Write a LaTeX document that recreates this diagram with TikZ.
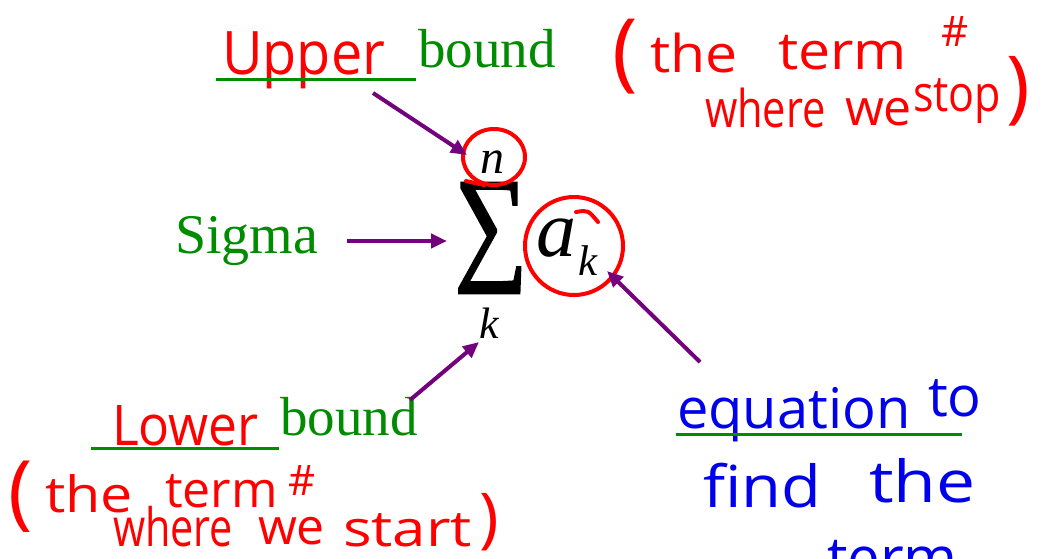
\documentclass[tikz,border=0pt]{standalone}
\usepackage{fontspec}
\setmainfont{Liberation Serif}
\newfontfamily\handfont{Open Sans}
\newfontfamily\sumfont[FakeBold=2]{Liberation Serif}
\usetikzlibrary{arrows.meta}
\definecolor{hred}{RGB}{255,0,0}
\definecolor{hblue}{RGB}{0,0,235}
\definecolor{tgreen}{RGB}{0,140,0}
\definecolor{apurple}{RGB}{115,0,125}
\newcommand{\xs}[2]{\scalebox{#1}[1]{#2}}
\begin{document}
\begin{tikzpicture}[x=1pt,y=-1pt,
  every node/.style={inner sep=0pt, outer sep=0pt},
  hand/.style={anchor=base west, text=hred, font=\handfont\fontsize{#1}{#1}\selectfont},
  hand/.default=50,
  bhand/.style={anchor=base west, text=hblue, font=\handfont\fontsize{#1}{#1}\selectfont},
  bhand/.default=56,
  gtext/.style={anchor=base west, text=tgreen, font=\fontsize{#1}{#1}\selectfont},
  gtext/.default=55,
  mathit/.style={anchor=base west, text=black, font=\itshape\fontsize{#1}{#1}\selectfont},
  uline/.style={draw=tgreen, line width=3pt},
  pointer/.style={draw=apurple, line width=4pt, -{Triangle[length=16pt,width=14pt]}},
  ring/.style={draw=hred, line width=4pt, line cap=round}
]
\useasboundingbox (0,0) rectangle (1043,558);
\fill[white] (0,0) rectangle (1043,558);
\clip (0,0) rectangle (1043,558);

% ---- central formula
\node (sum) at (491,238) {\resizebox*{73pt}{110pt}{\sumfont ∑}};
\node[mathit=48] (n) at (480,173) {n};
\node[mathit=80] (a) at (536,256) {a};
\node[mathit=43] (ksub) at (578,275) {k};
\node[mathit=44] (kbot) at (479,338) {k};

% red rings
\draw[ring] (494,157) ellipse [x radius=31, y radius=28];
\draw[ring] (466,181) -- (484,185);
\draw[ring] (574,246) circle [radius=49];
\draw[ring] (576,212) .. controls (588,210) .. (598,222);

% ---- Upper bound
\node[hand=60] (upper) at (222,74) {\xs{0.93}{Upper}};
\node[gtext=55] (ubound) at (418,67) {bound};
\draw[uline] (216,79) -- (416,79);

% top right note
\node[hand=86] (po1) at (612,80) {(};
\node[hand=52] (the1) at (650,72) {\xs{1.1}{the}};
\node[hand=52] (term1) at (778,69) {\xs{1.1}{term}};
\node[hand=42] (hash1) at (941,46) {\#};
\node[hand=52] (where1) at (705,127) {\xs{0.8}{where}};
\node[hand] (we1) at (845,125) {we};
\node[hand] (stop1) at (913,111) {\xs{0.86}{stop}};
\node[hand=80] (pc1) at (1006,113) {)};

% ---- Sigma
\node[gtext=56] (sigma) at (175,253) {Sigma};

% ---- Lower bound
\node[hand=56] (lower) at (112,445) {\xs{0.92}{Lower}};
\node[gtext=55] (lbound) at (280,435) {bound};
\draw[uline] (91,448) -- (279,448);

\node[hand=82] (po2) at (9,519) {(};
\node[hand] (the2) at (45,512) {\xs{1.15}{the}};
\node[hand] (term2) at (165,507) {term};
\node[hand=42] (hash2) at (288,495) {\#};
\node[hand=53] (where2) at (113,546) {\xs{0.78}{where}};
\node[hand] (we2) at (258,544) {we};
\node[hand] (start2) at (343,546) {\xs{1.2}{start}};
\node[hand=66] (pc2) at (479,540) {)};

% ---- equation to find the term
\node[bhand] (equation) at (677,428) {equation};
\node[bhand] (to) at (928,416) {to};
\draw[uline] (676,434) -- (962,434);
\node[bhand=58] (find) at (703,507) {\xs{1.12}{find}};
\node[bhand=58] (the3) at (869,502) {\xs{1.2}{the}};
\node[bhand=58] (term3) at (827,578) {term};

% ---- arrows
\coordinate (upTail) at (373,93);
\coordinate (upTip) at (467,155);
\coordinate (sgTail) at (347,241);
\coordinate (sgTip) at (447,241);
\coordinate (loTail) at (410,400);
\coordinate (loTip) at (479,342);
\coordinate (eqTail) at (700,362);
\coordinate (eqTip) at (607,271);
\draw[pointer] (upTail) -- (upTip);
\draw[pointer] (sgTail) -- (sgTip);
\draw[pointer] (loTail) -- (loTip);
\draw[pointer] (eqTail) -- (eqTip);
\end{tikzpicture}
\end{document}
